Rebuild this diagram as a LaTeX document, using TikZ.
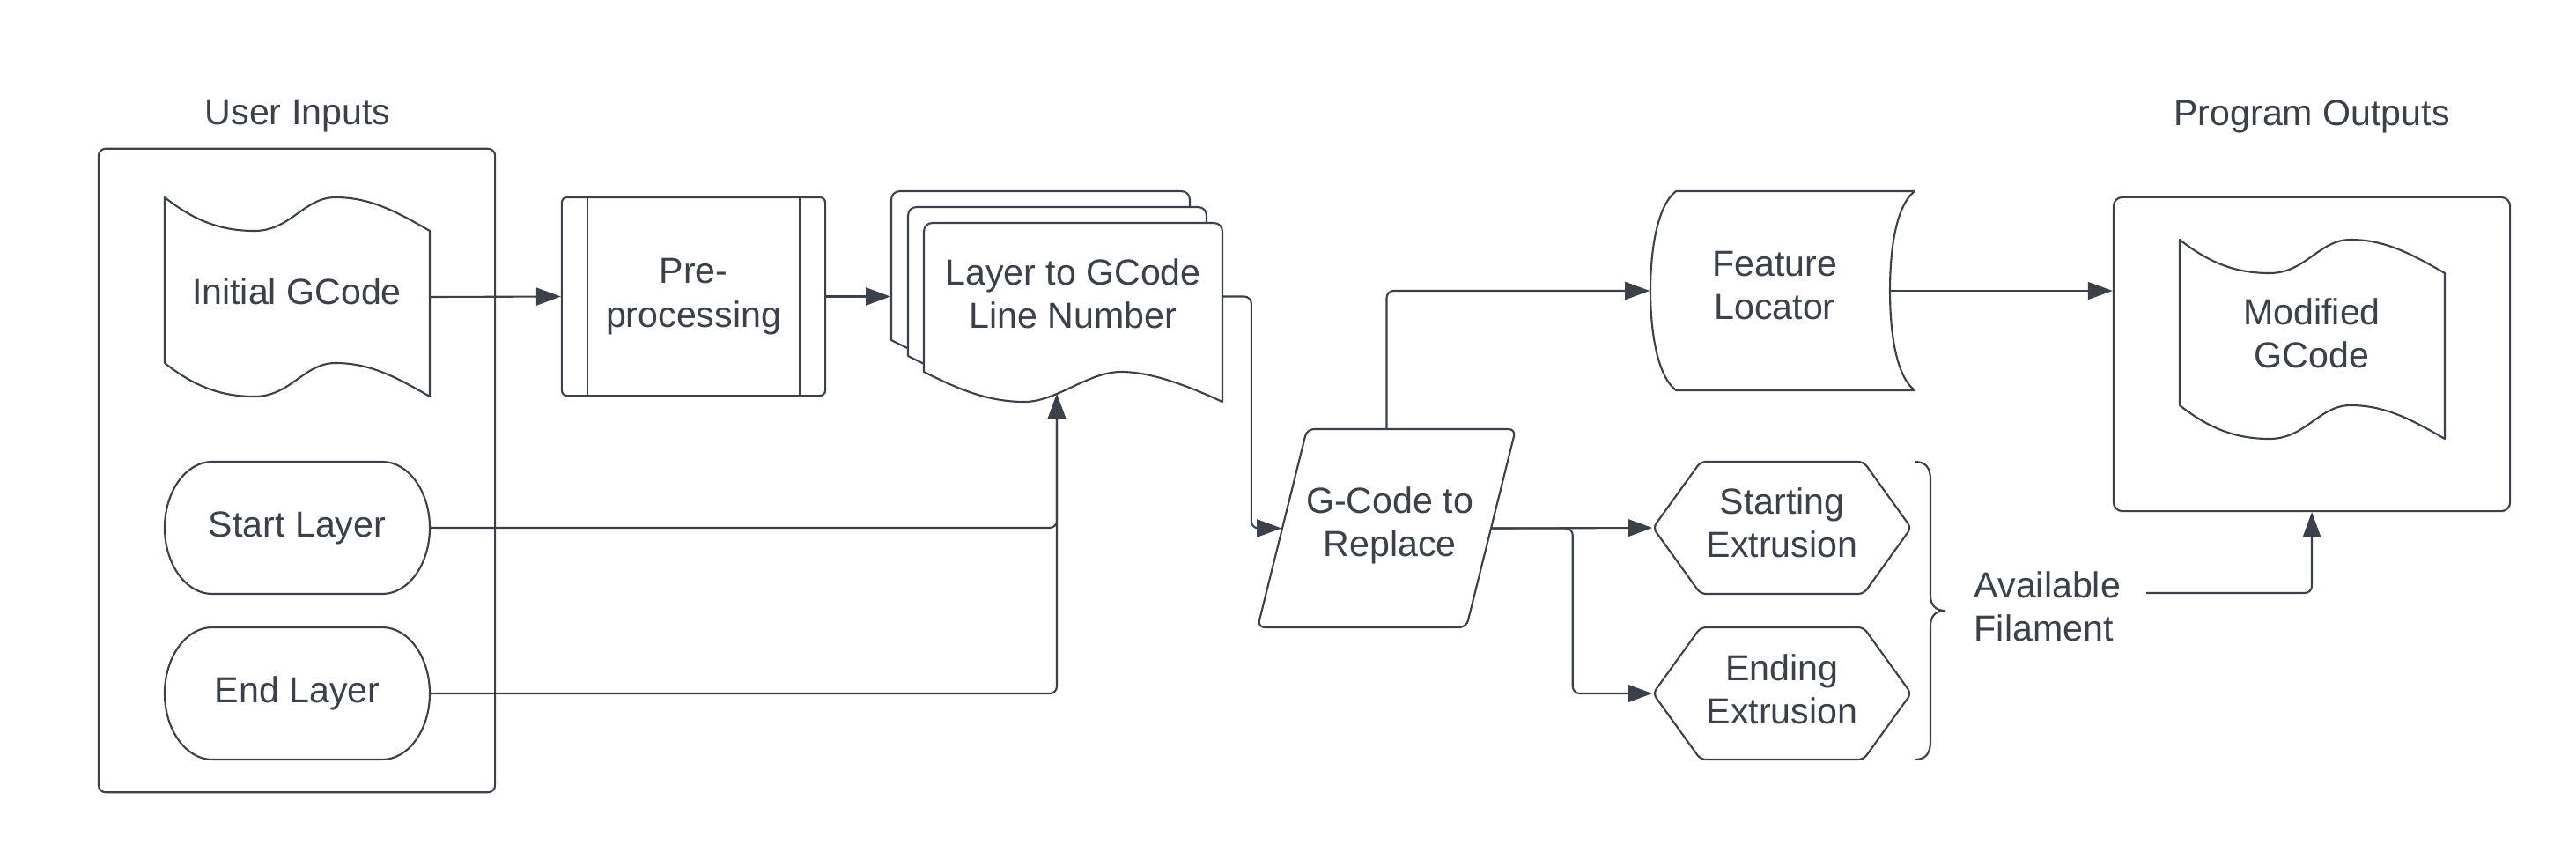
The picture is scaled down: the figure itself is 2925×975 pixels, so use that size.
\documentclass[tikz,border=0pt]{standalone}
\usepackage{fontspec}
\setmainfont{Liberation Sans}
\usetikzlibrary{arrows.meta}
\definecolor{lcol}{RGB}{58,65,74}
\definecolor{tcol}{RGB}{58,65,74}
\newcommand{\dfs}{\fontsize{11.7}{14}\selectfont}
\begin{document}
\begin{tikzpicture}[x=0.01cm, y=-0.01cm,
  shp/.style={draw=lcol, line width=0.6pt, fill=white, line join=round},
  txt/.style={font=\dfs, text=tcol, align=center, inner sep=0pt},
  anc/.style={inner sep=0pt},
  conn/.style={draw=lcol, line width=0.6pt, rounded corners=0.08cm},
  arr/.style={conn, -{Triangle[length=0.28cm,width=0.2cm]}},
  gdocpic/.pic={\draw[shp] (0,0) .. controls (33,26) and (63,38) .. (102,38) .. controls (143,38) and (158,0) .. (194,0) .. controls (233,0) and (263,16) .. (301,38) -- (301,226) .. controls (263,204) and (233,188) .. (194,188) .. controls (158,188) and (143,226) .. (102,226) .. controls (63,226) and (33,214) .. (0,188) -- cycle;},
  termpic/.pic={\draw[shp] (54,0) -- (247,0) .. controls (277,0) and (301,34) .. (301,75) .. controls (301,116) and (277,150) .. (247,150) -- (54,150) .. controls (24,150) and (0,116) .. (0,75) .. controls (0,34) and (24,0) .. (54,0) -- cycle;},
  sheetpic/.pic={\draw[shp] (0,169) -- (0,10) .. controls (0,4) and (4,0) .. (10,0) -- (329,0) .. controls (335,0) and (339,4) .. (339,10) -- (339,203) .. controls (296,183) and (256,169) .. (224,169) .. controls (186,169) and (151,203) .. (114,203) .. controls (71,203) and (36,187) .. (0,169) -- cycle;}]
\useasboundingbox (0,0) rectangle (2925,975);

% titles
\node[txt] (tin) at (338,132) {User Inputs};
\node[txt] (tout) at (2625,132) {Program Outputs};

% user inputs group
\node[draw=lcol, line width=0.6pt, rounded corners=0.08cm, minimum width=4.5cm, minimum height=7.3cm, inner sep=0pt] (inputs) at (337,534) {};
\pic at (187,224) {gdocpic};
\node[anc, minimum width=3.01cm, minimum height=2.26cm] (init) at (337.5,337) {};
\node[txt] (inittxt) at (337,331) {Initial GCode};
\pic at (187,524) {termpic};
\node[txt, minimum width=3.01cm, minimum height=1.5cm] (slayer) at (337.5,599) {Start Layer};
\pic at (187,712) {termpic};
\node[txt, minimum width=3.01cm, minimum height=1.5cm] (elayer) at (337.5,787) {End Layer};

% pre-processing
\node[txt, draw=lcol, line width=0.6pt, rounded corners=0.06cm, minimum width=2.99cm, minimum height=2.25cm] (pre) at (787.5,336.5) {Pre-\\processing};
\draw[lcol, line width=0.6pt] ([xshift=0.3cm]pre.north west) -- ([xshift=0.3cm]pre.south west);
\draw[lcol, line width=0.6pt] ([xshift=-0.3cm]pre.north east) -- ([xshift=-0.3cm]pre.south east);

% layer stack
\pic at (1012,217) {sheetpic};
\node[anc, minimum width=3.39cm, minimum height=2.03cm] (sheetB) at (1181.5,318.5) {};
\pic at (1031,235) {sheetpic};
\pic at (1049,253) {sheetpic};
\node[anc, minimum width=3.39cm, minimum height=2.03cm] (layer) at (1218.5,354.5) {};
\node[txt] (layertxt) at (1218.5,333) {Layer to GCode\\Line Number};
\coordinate (layerbot) at (1200,447);

% g-code to replace
\draw[shp, rounded corners=0.08cm] (1484,487) -- (1721,487) -- (1665,712) -- (1428,712) -- cycle;
\node[anc, minimum width=2.37cm, minimum height=2.25cm] (gcode) at (1574.5,599.5) {};
\node[txt] (gcodetxt) at (1578,596) {G-Code to\\Replace};

% feature locator
\draw[shp] (1903,217) -- (2174,217) .. controls (2151,235) and (2146,290) .. (2146,330) .. controls (2146,370) and (2151,425) .. (2174,443) -- (1903,443) .. controls (1880,425) and (1874,370) .. (1874,330) .. controls (1874,290) and (1880,235) .. (1903,217) -- cycle;
\node[anc, minimum width=2.72cm, minimum height=2.26cm] (feat) at (2010,330) {};
\node[txt] (feattxt) at (2015,324) {Feature\\Locator};

% extrusions
\draw[shp, rounded corners=0.06cm] (1877,599) -- (1931,524) -- (2116,524) -- (2170,599) -- (2116,674) -- (1931,674) -- cycle;
\node[anc, minimum width=2.93cm, minimum height=1.5cm] (sext) at (2023.5,599) {};
\node[txt] (sexttxt) at (2023.5,593) {Starting\\Extrusion};
\draw[shp, rounded corners=0.06cm] (1877,787) -- (1931,712) -- (2116,712) -- (2170,787) -- (2116,862) -- (1931,862) -- cycle;
\node[anc, minimum width=2.93cm, minimum height=1.5cm] (eext) at (2023.5,787) {};
\node[txt] (eexttxt) at (2023.5,782) {Ending\\Extrusion};

% brace
\draw[lcol, line width=0.6pt] (2174,524) .. controls (2186,524) and (2192,530) .. (2192,545) -- (2192,676) .. controls (2192,687) and (2198,693) .. (2209,693) .. controls (2198,693) and (2192,699) .. (2192,710) -- (2192,841) .. controls (2192,856) and (2186,862) .. (2174,862);
\node[txt, align=left, anchor=west] (avail) at (2241,688) {Available\\Filament};
\coordinate (availR) at (2437,673);

% program outputs
\node[draw=lcol, line width=0.6pt, rounded corners=0.1cm, minimum width=4.5cm, minimum height=3.56cm, inner sep=0pt] (outbox) at (2625,402) {};
\pic at (2475,272) {gdocpic};
\node[txt] (mod) at (2625,378) {Modified\\GCode};

% connectors
\draw[arr] (init.east) -- (pre.west);
\draw[arr] (pre.east) -- (pre.east -| sheetB.west);
\draw[arr] (slayer.east) -| (layerbot);
\draw[arr] (elayer.east) -| (layerbot);
\draw[arr] (layer.east |- pre.east) -- ++(32,0) |- (gcode.west);
\draw[arr] (gcode.north) |- (feat.west);
\draw[arr] (gcode.east) -- (sext.west);
\draw[arr] (gcode.east) -- ++(92,0) |- (eext.west);
\draw[arr, line width=0.35pt] (feat.east) -- (feat.east -| outbox.west);
\draw[arr] (availR) -| (outbox.south);
\end{tikzpicture}
\end{document}
